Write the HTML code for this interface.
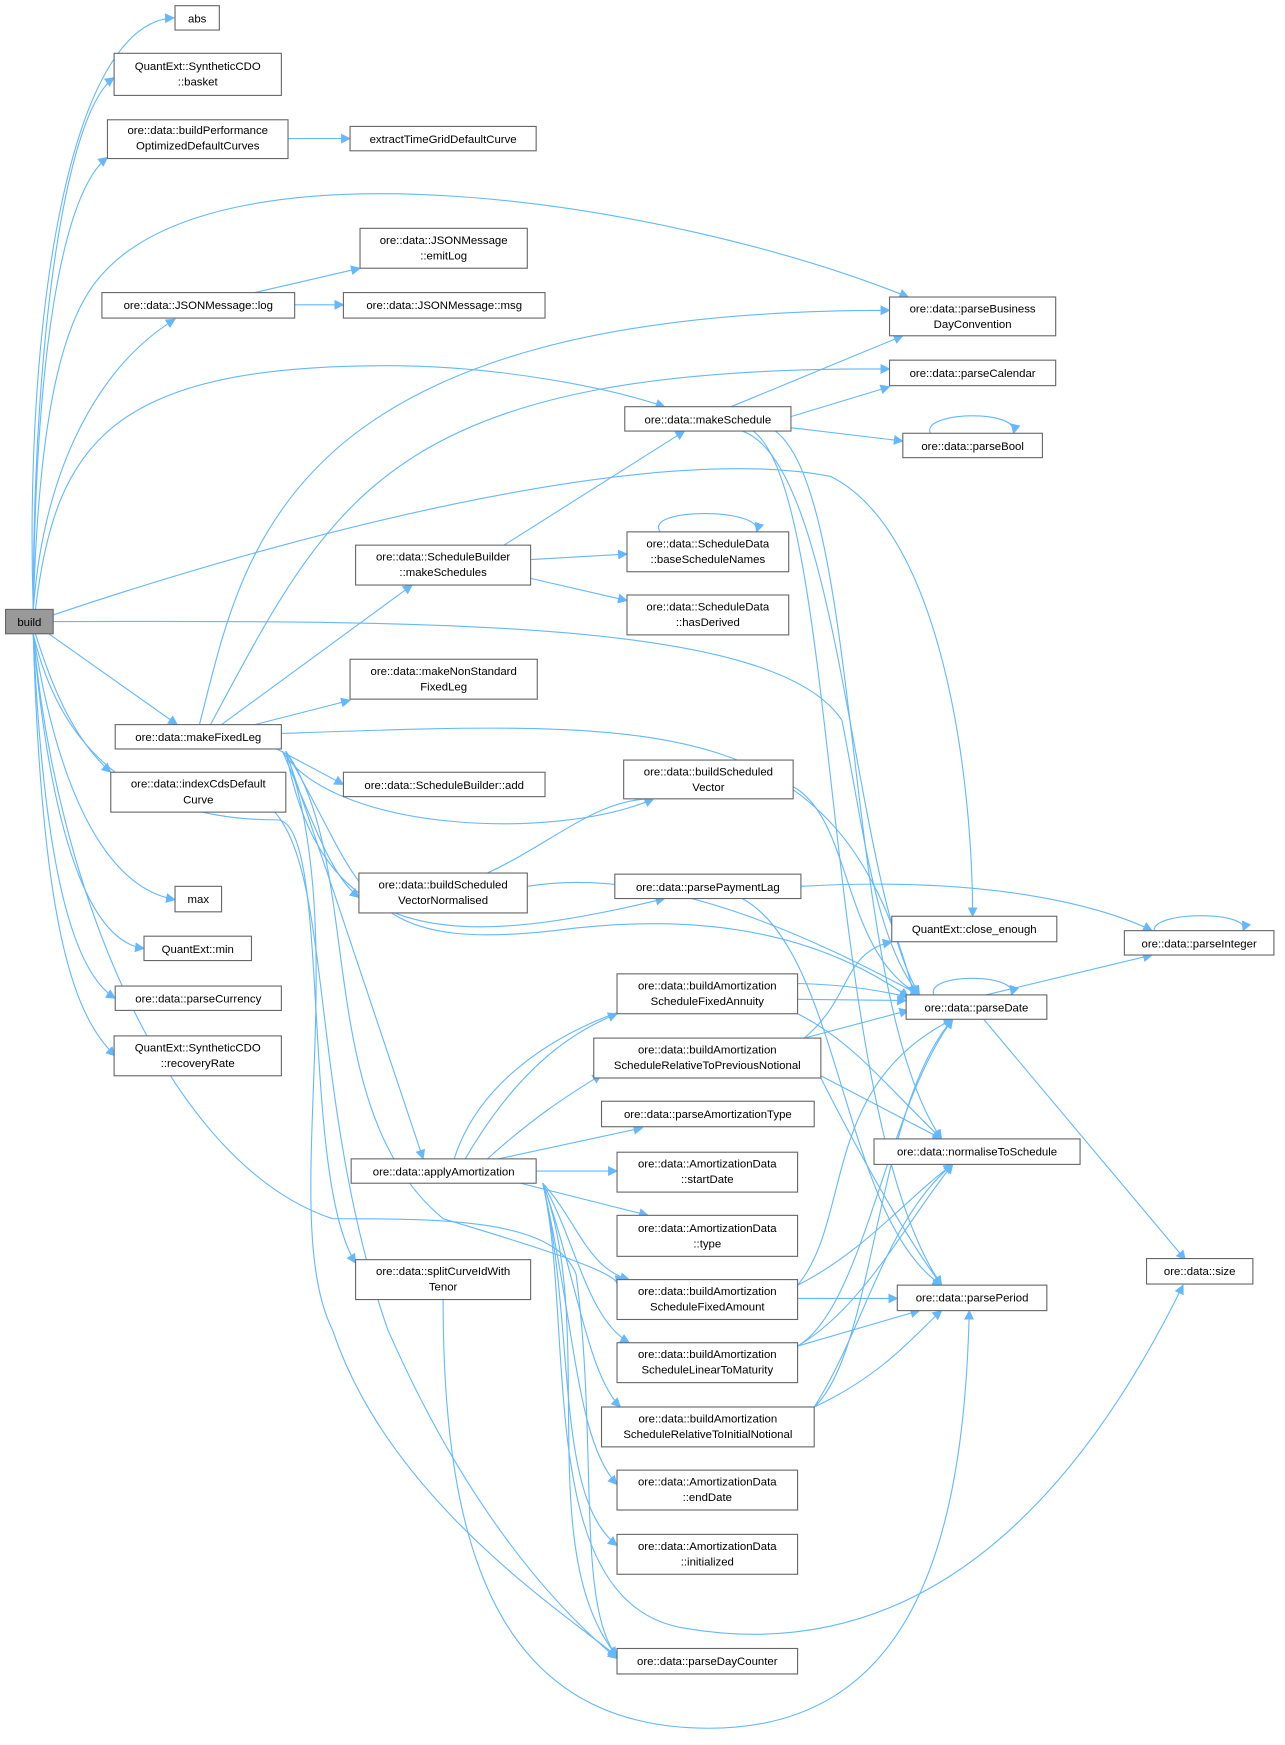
<!DOCTYPE html>
<html><head><meta charset="utf-8"><style>
html,body{margin:0;padding:0;background:#fff;}
svg{display:block;}
text{font-family:"Liberation Sans",sans-serif;font-size:10.3px;fill:#000;text-anchor:middle;}
.n{fill:#fff;stroke:#666;stroke-width:1;}
.e{fill:none;stroke:#63b8ff;stroke-width:1;marker-end:url(#a);}
</style></head><body>
<svg width="1285" height="1745" viewBox="0 0 1160 1575" xmlns="http://www.w3.org/2000/svg">
<defs><marker id="a" viewBox="0 0 10 10" refX="9" refY="5" markerWidth="9" markerHeight="9" markerUnits="userSpaceOnUse" orient="auto"><path d="M0,0 L10,5 L0,10 z" fill="#63b8ff"/></marker></defs>
<g>
<!-- edges from build -->
<path class="e" d="M30,550 C22,300 60,20 157,16"/>
<path class="e" d="M30,550 C30,300 60,100 103,70"/>
<path class="e" d="M30,550 C32,300 60,170 97,142"/>
<path class="e" d="M30,550 C35,380 55,290 90,250 C200,120 600,180 820,268"/>
<path class="e" d="M30,550 C40,420 90,330 158,288"/>
<path class="e" d="M32,550 C50,400 100,330 350,330 C450,330 550,350 600,367"/>
<path class="e" d="M48,555 C300,470 600,400 750,430 C850,480 878,700 878,827"/>
<path class="e" d="M48,561 C400,560 700,560 760,650 C780,750 790,850 830,898"/>
<path class="e" d="M44,572 L160,654"/>
<path class="e" d="M32,572 C50,630 70,670 100,697"/>
<path class="e" d="M30,572 C50,700 90,800 158,812"/>
<path class="e" d="M30,572 C45,750 80,850 130,856"/>
<path class="e" d="M30,572 C40,800 70,880 104,901"/>
<path class="e" d="M30,572 C38,850 70,920 104,953"/>
<path class="e" d="M30,572 C60,700 150,740 250,740 C300,740 270,1060 321,1140"/>
<path class="e" d="M30,572 C50,800 150,1050 300,1100 C400,1100 500,1100 520,1150 C540,1300 520,1450 557,1495"/>
<!-- makeFixedLeg -->
<path class="e" d="M180,654 C220,500 250,280 803,280"/>
<path class="e" d="M190,654 C300,450 350,330 803,333"/>
<path class="e" d="M200,654 L372,528"/>
<path class="e" d="M230,654 L316,632"/>
<path class="e" d="M254,662 C600,650 760,640 825,898"/>
<path class="e" d="M250,676 L310,708"/>
<path class="e" d="M255,678 C300,750 500,760 590,721"/>
<path class="e" d="M255,678 C290,760 300,790 324,810"/>
<path class="e" d="M258,678 C290,850 400,860 600,811"/>
<path class="e" d="M258,678 C300,800 350,950 382,1046"/>
<path class="e" d="M258,678 C320,850 250,1100 300,1200 C350,1350 500,1450 557,1495"/>
<path class="e" d="M258,678 C330,800 320,860 500,840 C650,820 750,850 820,900"/>
<path class="e" d="M258,678 C330,780 280,1000 400,1100 C500,1130 560,1150 557,1160"/>
<!-- indexCds -->
<path class="e" d="M248,733 C300,790 280,1000 350,1200 C420,1360 500,1450 557,1497"/>
<!-- JSON -->
<path class="e" d="M230,264 L325,242"/>
<path class="e" d="M266,275 L310,275"/>
<path class="e" d="M260,125 L316,125"/>
<!-- makeSchedule -->
<path class="e" d="M660,367 L815,303"/>
<path class="e" d="M714,376 L803,349"/>
<path class="e" d="M714,386 L815,398"/>
<path class="e" d="M670,389 C760,420 770,800 830,898"/>
<path class="e" d="M680,389 C760,450 740,1000 850,1160"/>
<path class="e" d="M700,389 C780,450 760,900 850,1028"/>
<path class="e" d="M840,391 C830,372 920,368 915,391"/>
<!-- makeSchedules -->
<path class="e" d="M455,492 L618,389"/>
<path class="e" d="M479,505 L566,500"/>
<path class="e" d="M479,522 L566,542"/>
<path class="e" d="M596,480 C580,458 690,458 683,480"/>
<!-- buildScheduledVector etc -->
<path class="e" d="M716,710 C770,740 760,860 830,898"/>
<path class="e" d="M440,788 C500,760 540,720 590,721"/>
<path class="e" d="M476,800 C600,780 740,850 830,898"/>
<path class="e" d="M670,811 C760,860 760,1100 850,1160"/>
<path class="e" d="M723,800 C900,790 1000,820 1040,840"/>
<!-- parseDate -->
<path class="e" d="M890,898 L1040,862"/>
<path class="e" d="M888,920 L1070,1137"/>
<path class="e" d="M1042,840 C1040,822 1130,822 1122,840"/>
<path class="e" d="M843,898 C835,878 920,878 913,898"/>
<!-- amortization nodes -->
<path class="e" d="M720,902 L818,903"/>
<path class="e" d="M720,915 C770,940 800,980 850,1028"/>
<path class="e" d="M726,937 L820,912"/>
<path class="e" d="M726,937 C770,900 760,860 805,850"/>
<path class="e" d="M720,960 L850,1028"/>
<path class="e" d="M741,973 C780,1050 820,1120 850,1160"/>
<path class="e" d="M720,1160 C780,1130 820,1080 860,1051"/>
<path class="e" d="M720,1172 L810,1172"/>
<path class="e" d="M720,1160 C770,1100 740,980 860,920"/>
<path class="e" d="M720,1215 L830,1183"/>
<path class="e" d="M720,1215 C780,1180 820,1100 860,1051"/>
<path class="e" d="M720,1215 C780,1180 800,1000 860,920"/>
<path class="e" d="M735,1270 C800,1240 830,1200 850,1183"/>
<path class="e" d="M735,1270 C790,1220 790,1000 860,920"/>
<path class="e" d="M735,1270 C780,1200 800,1100 860,1051"/>
<!-- applyAmortization -->
<path class="e" d="M410,1046 C450,920 650,860 820,900"/>
<path class="e" d="M420,1046 C470,960 520,930 557,915"/>
<path class="e" d="M440,1046 C480,1010 510,990 543,970"/>
<path class="e" d="M450,1046 L580,1018"/>
<path class="e" d="M484,1057 L557,1057"/>
<path class="e" d="M470,1068 L585,1097"/>
<path class="e" d="M490,1068 C520,1100 530,1145 568,1155"/>
<path class="e" d="M490,1068 C520,1120 530,1190 568,1212"/>
<path class="e" d="M490,1068 C520,1150 530,1240 560,1270"/>
<path class="e" d="M490,1068 C520,1200 520,1300 557,1340"/>
<path class="e" d="M490,1068 C520,1200 500,1350 557,1395"/>
<path class="e" d="M490,1068 C540,1200 480,1400 557,1495"/>
<path class="e" d="M490,1068 C520,1200 480,1450 620,1470 C800,1500 950,1400 1068,1160"/>
<!-- splitCurve -->
<path class="e" d="M400,1173 C400,1400 450,1560 640,1560 C820,1560 870,1400 875,1183"/>
</g>
<!-- nodes -->
<rect x="5" y="550" width="43" height="22" fill="#999" stroke="#666"/><text x="26.5" y="565">build</text>
<rect class="n" x="158" y="5" width="40" height="22"/><text x="178" y="20">abs</text>
<rect class="n" x="103" y="48" width="151" height="38"/><text x="178.5" y="63">QuantExt::SyntheticCDO</text><text x="178.5" y="77">::basket</text>
<rect class="n" x="97" y="108" width="163" height="35"/><text x="178.5" y="121">ore::data::buildPerformance</text><text x="178.5" y="135">OptimizedDefaultCurves</text>
<rect class="n" x="316" y="114" width="168" height="22"/><text x="400" y="129">extractTimeGridDefaultCurve</text>
<rect class="n" x="325" y="206" width="151" height="36"/><text x="400.5" y="220">ore::data::JSONMessage</text><text x="400.5" y="234">::emitLog</text>
<rect class="n" x="92" y="264" width="174" height="23"/><text x="179" y="279">ore::data::JSONMessage::log</text>
<rect class="n" x="310" y="264" width="182" height="23"/><text x="401" y="279">ore::data::JSONMessage::msg</text>
<rect class="n" x="803" y="268" width="150" height="35"/><text x="878" y="282">ore::data::parseBusiness</text><text x="878" y="296">DayConvention</text>
<rect class="n" x="803" y="325" width="150" height="23"/><text x="878" y="340">ore::data::parseCalendar</text>
<rect class="n" x="564" y="367" width="150" height="22"/><text x="639" y="382">ore::data::makeSchedule</text>
<rect class="n" x="815" y="391" width="126" height="22"/><text x="878" y="406">ore::data::parseBool</text>
<rect class="n" x="321" y="492" width="158" height="36"/><text x="400" y="506">ore::data::ScheduleBuilder</text><text x="400" y="520">::makeSchedules</text>
<rect class="n" x="566" y="480" width="146" height="36"/><text x="639" y="494">ore::data::ScheduleData</text><text x="639" y="508">::baseScheduleNames</text>
<rect class="n" x="566" y="537" width="146" height="36"/><text x="639" y="551">ore::data::ScheduleData</text><text x="639" y="565">::hasDerived</text>
<rect class="n" x="316" y="595" width="169" height="36"/><text x="400.5" y="609">ore::data::makeNonStandard</text><text x="400.5" y="623">FixedLeg</text>
<rect class="n" x="104" y="654" width="150" height="22"/><text x="179" y="669">ore::data::makeFixedLeg</text>
<rect class="n" x="100" y="697" width="158" height="36"/><text x="179" y="711">ore::data::indexCdsDefault</text><text x="179" y="725">Curve</text>
<rect class="n" x="310" y="697" width="182" height="22"/><text x="401" y="712">ore::data::ScheduleBuilder::add</text>
<rect class="n" x="563" y="686" width="153" height="35"/><text x="639.5" y="700">ore::data::buildScheduled</text><text x="639.5" y="714">Vector</text>
<rect class="n" x="158" y="800" width="42" height="23"/><text x="179" y="815">max</text>
<rect class="n" x="324" y="788" width="152" height="36"/><text x="400" y="802">ore::data::buildScheduled</text><text x="400" y="816">VectorNormalised</text>
<rect class="n" x="555" y="789" width="168" height="22"/><text x="639" y="804">ore::data::parsePaymentLag</text>
<rect class="n" x="805" y="827" width="149" height="23"/><text x="879.5" y="842">QuantExt::close_enough</text>
<rect class="n" x="1015" y="840" width="135" height="22"/><text x="1082.5" y="855">ore::data::parseInteger</text>
<rect class="n" x="130" y="845" width="97" height="22"/><text x="178.5" y="860">QuantExt::min</text>
<rect class="n" x="818" y="898" width="127" height="22"/><text x="881.5" y="913">ore::data::parseDate</text>
<rect class="n" x="557" y="879" width="163" height="36"/><text x="638.5" y="893">ore::data::buildAmortization</text><text x="638.5" y="907">ScheduleFixedAnnuity</text>
<rect class="n" x="536" y="937" width="205" height="36"/><text x="638.5" y="951">ore::data::buildAmortization</text><text x="638.5" y="965">ScheduleRelativeToPreviousNotional</text>
<rect class="n" x="104" y="890" width="150" height="22"/><text x="179" y="905">ore::data::parseCurrency</text>
<rect class="n" x="103" y="935" width="151" height="36"/><text x="178.5" y="949">QuantExt::SyntheticCDO</text><text x="178.5" y="963">::recoveryRate</text>
<rect class="n" x="543" y="994" width="192" height="23"/><text x="639" y="1009">ore::data::parseAmortizationType</text>
<rect class="n" x="789" y="1028" width="186" height="23"/><text x="882" y="1043">ore::data::normaliseToSchedule</text>
<rect class="n" x="317" y="1046" width="167" height="22"/><text x="400.5" y="1061">ore::data::applyAmortization</text>
<rect class="n" x="557" y="1040" width="163" height="36"/><text x="638.5" y="1054">ore::data::AmortizationData</text><text x="638.5" y="1068">::startDate</text>
<rect class="n" x="557" y="1097" width="163" height="37"/><text x="638.5" y="1112">ore::data::AmortizationData</text><text x="638.5" y="1126">::type</text>
<rect class="n" x="321" y="1137" width="158" height="36"/><text x="400" y="1151">ore::data::splitCurveIdWith</text><text x="400" y="1165">Tenor</text>
<rect class="n" x="1035" y="1136" width="96" height="23"/><text x="1083" y="1151">ore::data::size</text>
<rect class="n" x="557" y="1155" width="163" height="36"/><text x="638.5" y="1169">ore::data::buildAmortization</text><text x="638.5" y="1183">ScheduleFixedAmount</text>
<rect class="n" x="810" y="1160" width="135" height="23"/><text x="877.5" y="1175">ore::data::parsePeriod</text>
<rect class="n" x="557" y="1212" width="163" height="36"/><text x="638.5" y="1226">ore::data::buildAmortization</text><text x="638.5" y="1240">ScheduleLinearToMaturity</text>
<rect class="n" x="543" y="1270" width="192" height="36"/><text x="639" y="1284">ore::data::buildAmortization</text><text x="639" y="1298">ScheduleRelativeToInitialNotional</text>
<rect class="n" x="557" y="1327" width="163" height="36"/><text x="638.5" y="1341">ore::data::AmortizationData</text><text x="638.5" y="1355">::endDate</text>
<rect class="n" x="557" y="1385" width="163" height="36"/><text x="638.5" y="1399">ore::data::AmortizationData</text><text x="638.5" y="1413">::initialized</text>
<rect class="n" x="557" y="1488" width="163" height="23"/><text x="638.5" y="1503">ore::data::parseDayCounter</text>
</svg>
</body></html>
